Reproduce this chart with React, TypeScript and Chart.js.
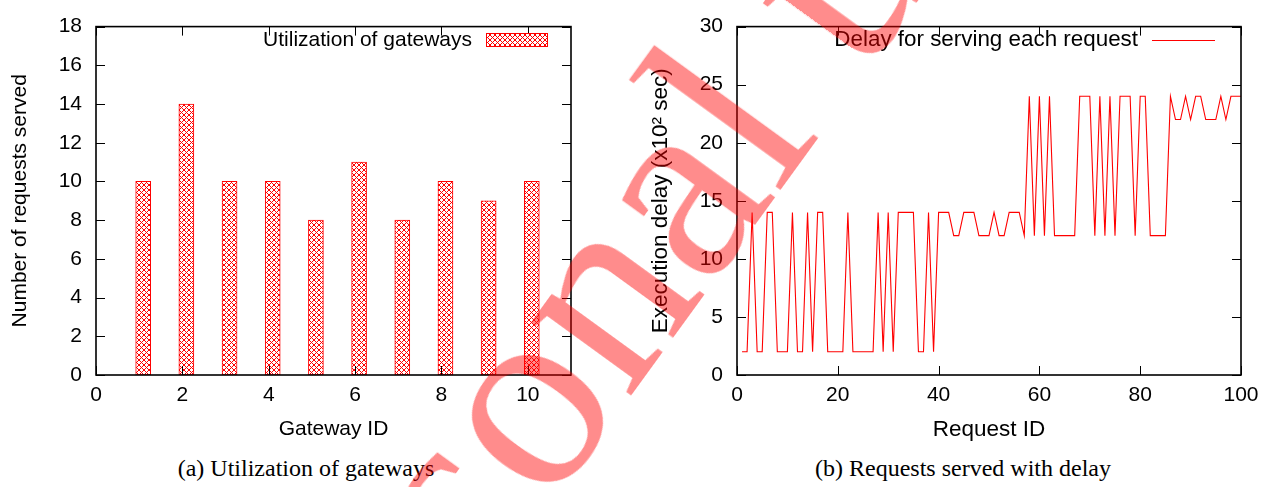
import React, { useEffect, useRef } from 'react';
import { Chart, registerables } from 'chart.js';

Chart.register(...registerables);

// ---------- data: chart (a) ----------
const gatewayIds = [1, 2, 3, 4, 5, 6, 7, 8, 9, 10];
const requestsServed = [10, 14, 10, 10, 8, 11, 8, 10, 9, 10];
const gatewayTicks = [0, 2, 4, 6, 8, 10];
const servedTicks = [0, 2, 4, 6, 8, 10, 12, 14, 16, 18];

// ---------- data: chart (b) ----------
const executionDelay = [
  2, 2, 14, 2, 2, 14, 14, 2, 2, 2,
  14, 2, 2, 14, 2, 14, 14, 2, 2, 2,
  2, 14, 2, 2, 2, 2, 2, 14, 2, 14,
  2, 14, 14, 14, 14, 2, 2, 14, 2, 14,
  14, 14, 12, 12, 14, 14, 14, 12, 12, 12,
  14, 12, 12, 14, 14, 14, 12, 24, 12, 24,
  12, 24, 12, 12, 12, 12, 12, 24, 24, 24,
  12, 24, 12, 24, 12, 24, 24, 24, 12, 24,
  24, 12, 12, 12, 12, 24, 22, 22, 24, 22,
  24, 24, 22, 22, 22, 24, 22, 24, 24, 24,
];
const requestIdTicks = [0, 20, 40, 60, 80, 100];
const delayTicks = [0, 5, 10, 15, 20, 25, 30];

const FONT = "'Liberation Sans', Arial, Helvetica, sans-serif";
const SERIF = "'Liberation Serif', 'Times New Roman', serif";
const RED = '#ff0000';

function makeHatch(): CanvasPattern | string {
  const size = 5;
  const tile = document.createElement('canvas');
  tile.width = size;
  tile.height = size;
  const t = tile.getContext('2d');
  if (!t) return RED;
  t.fillStyle = '#ffffff';
  t.fillRect(0, 0, size, size);
  t.strokeStyle = RED;
  t.lineWidth = 1;
  t.beginPath();
  t.moveTo(-1, -1);
  t.lineTo(size + 1, size + 1);
  t.moveTo(size + 1, -1);
  t.lineTo(-1, size + 1);
  t.stroke();
  const tmp = document.createElement('canvas').getContext('2d');
  return (tmp && tmp.createPattern(tile, 'repeat')) || RED;
}

function drawFrame(chart: any) {
  const { ctx, chartArea } = chart;
  const { left, right, top, bottom } = chartArea;
  const x = chart.scales.x;
  const y = chart.scales.y;
  const TL = 9;
  ctx.save();
  ctx.strokeStyle = '#000';
  ctx.lineWidth = 1;
  ctx.beginPath();
  x.ticks.forEach((t: any) => {
    const px = Math.round(x.getPixelForValue(t.value)) + 0.5;
    ctx.moveTo(px, bottom);
    ctx.lineTo(px, bottom - TL);
    ctx.moveTo(px, top);
    ctx.lineTo(px, top + TL);
  });
  y.ticks.forEach((t: any) => {
    const py = Math.round(y.getPixelForValue(t.value)) + 0.5;
    ctx.moveTo(left, py);
    ctx.lineTo(left + TL, py);
    ctx.moveTo(right, py);
    ctx.lineTo(right - TL, py);
  });
  ctx.stroke();
  ctx.lineWidth = 1.6;
  ctx.strokeRect(left, top, right - left, bottom - top);
  ctx.restore();
}

function axisCommon(ticks: number[], min: number, max: number, titleText: string, isY: boolean, titleSize: number, titlePad: number) {
  return {
    type: 'linear',
    min,
    max,
    offset: false,
    grid: { display: false, drawTicks: false },
    border: { display: false },
    afterBuildTicks: (s: any) => {
      s.ticks = ticks.map((v) => ({ value: v }));
    },
    ticks: {
      color: '#000',
      padding: isY ? 14 : 8,
      font: { family: FONT, size: 21 },
      autoSkip: false,
      maxRotation: 0,
      includeBounds: false,
    },
    title: {
      display: true,
      text: titleText,
      color: '#000',
      font: { family: FONT, size: titleSize },
      padding: isY ? { top: titlePad, bottom: 0 } : { top: 0, bottom: titlePad },
    },
  } as any;
}

function BarPanel() {
  const ref = useRef<HTMLCanvasElement | null>(null);
  useEffect(() => {
    if (!ref.current) return;
    const hatch = makeHatch();
    const plugin = {
      id: 'gnuplotA',
      beforeDatasetsDraw(chart: any) {
        chart.ctx.save();
        chart.ctx.translate(4, 0);
      },
      afterDatasetsDraw(chart: any) {
        chart.ctx.restore();
        drawFrame(chart);
        const ctx = chart.ctx;
        ctx.save();
        ctx.font = `21px ${FONT}`;
        ctx.fillStyle = '#000';
        ctx.textAlign = 'right';
        ctx.textBaseline = 'middle';
        ctx.fillText('Utilization of gateways', 472, 40);
        ctx.fillStyle = hatch;
        ctx.fillRect(486, 33, 61, 13);
        ctx.strokeStyle = RED;
        ctx.lineWidth = 1;
        ctx.strokeRect(486.5, 33.5, 61, 13);
        ctx.restore();
      },
    };
    const xScale = axisCommon(gatewayTicks, 0, 11, 'Gateway ID', false, 21, 7.7);
    const yScale = axisCommon(servedTicks, 0, 18, 'Number of requests served', true, 21, 7.5);
    xScale.afterFit = (s: any) => { s.height = 75; };
    yScale.afterFit = (s: any) => { s.width = 96; };
    const chart = new Chart(ref.current, {
      type: 'bar',
      data: {
        datasets: [
          {
            label: 'Utilization of gateways',
            data: gatewayIds.map((g, i) => ({ x: g, y: requestsServed[i] })),
            backgroundColor: hatch as any,
            borderColor: RED,
            borderWidth: 1,
            borderSkipped: false,
            barThickness: 15,
          },
        ],
      },
      options: {
        animation: false,
        responsive: false,
        layout: { padding: { left: 0, right: 69, top: 18, bottom: 0 } },
        plugins: { legend: { display: false }, tooltip: { enabled: false } },
        scales: { x: xScale, y: yScale },
      } as any,
      plugins: [plugin],
    });
    return () => chart.destroy();
  }, []);
  return <canvas ref={ref} width={640} height={450} style={{ position: 'absolute', left: 0, top: 0, display: 'block' }} />;
}

function LinePanel() {
  const ref = useRef<HTMLCanvasElement | null>(null);
  useEffect(() => {
    if (!ref.current) return;
    const plugin = {
      id: 'gnuplotB',
      afterDatasetsDraw(chart: any) {
        drawFrame(chart);
        const ctx = chart.ctx;
        ctx.save();
        ctx.font = `22.4px ${FONT}`;
        ctx.fillStyle = '#000';
        ctx.textAlign = 'right';
        ctx.textBaseline = 'middle';
        ctx.fillText('Delay for serving each request', 498, 40);
        ctx.strokeStyle = RED;
        ctx.lineWidth = 1;
        ctx.beginPath();
        ctx.moveTo(512, 40.5);
        ctx.lineTo(575, 40.5);
        ctx.stroke();
        ctx.restore();
      },
    };
    const xScale = axisCommon(requestIdTicks, 0, 100, 'Request ID', false, 22.5, 6.5);
    const yScale = axisCommon(delayTicks, 0, 30, 'Execution delay (x10\u00B2 sec)', true, 22.5, 7);
    xScale.afterFit = (s: any) => { s.height = 75; };
    yScale.afterFit = (s: any) => { s.width = 97; };
    const chart = new Chart(ref.current, {
      type: 'line',
      data: {
        datasets: [
          {
            label: 'Delay for serving each request',
            data: executionDelay.map((v, i) => ({ x: i + 1, y: v })),
            borderColor: RED,
            borderWidth: 1.1,
            pointRadius: 0,
            fill: false,
            tension: 0,
          },
        ],
      },
      options: {
        animation: false,
        responsive: false,
        layout: { padding: { left: 0, right: 32, top: 18, bottom: 0 } },
        plugins: { legend: { display: false }, tooltip: { enabled: false } },
        scales: { x: xScale, y: yScale },
      } as any,
      plugins: [plugin],
    });
    return () => chart.destroy();
  }, []);
  return <canvas ref={ref} width={633} height={450} style={{ position: 'absolute', left: 640, top: 0, display: 'block' }} />;
}

const captionStyle: React.CSSProperties = {
  position: 'absolute',
  top: 454,
  width: 640,
  textAlign: 'center',
  fontFamily: SERIF,
  fontSize: 24,
  lineHeight: '28px',
  color: '#000',
  whiteSpace: 'nowrap',
};

export default function App() {
  return (
    <div style={{ position: 'fixed', left: 0, top: 0, width: 1273, height: 487, overflow: 'hidden', background: '#fff' }}>
      <BarPanel />
      <LinePanel />
      <div style={{ ...captionStyle, left: -14 }}>(a) Utilization of gateways</div>
      <div style={{ ...captionStyle, left: 643 }}>(b) Requests served with delay</div>
      <div
        style={{
          position: 'absolute',
          left: 92,
          top: 753,
          transformOrigin: '0 0',
          transform: 'rotate(-54deg)',
          fontFamily: SERIF,
          fontSize: 270,
          lineHeight: 1,
          color: 'rgba(255, 0, 0, 0.45)',
          whiteSpace: 'nowrap',
          pointerEvents: 'none',
        }}
      >
        Personal use only
      </div>
    </div>
  );
}
